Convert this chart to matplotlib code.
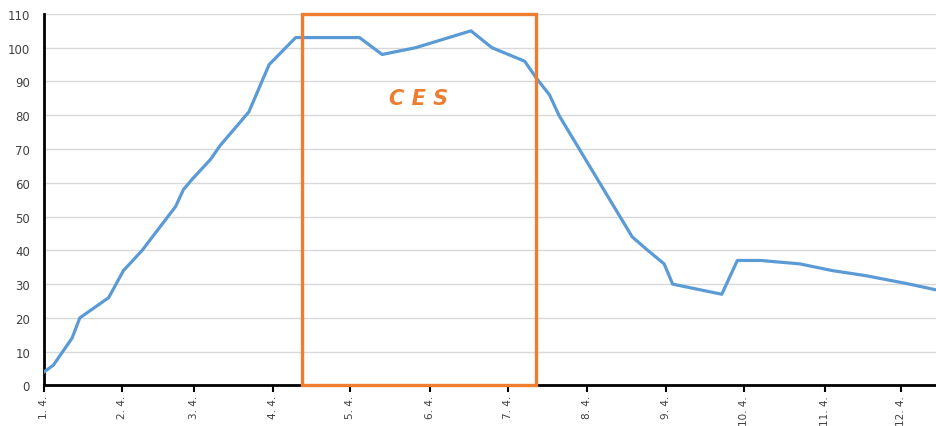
import matplotlib
matplotlib.use("Agg")
import matplotlib.pyplot as plt
from matplotlib.patches import Rectangle

# Data (x in days)
x_vals = [1.0, 1.12, 1.36, 1.46, 1.83, 2.02, 2.26, 2.69, 2.79, 2.90, 3.14, 3.26,
          3.63, 3.89, 4.23, 5.05, 5.34, 5.77, 6.48, 6.75, 7.17, 7.32, 7.49, 7.61,
          8.55, 8.75, 8.96, 9.07, 9.70, 9.90, 10.20, 10.70, 11.12, 11.55, 12.11, 12.45]
y_vals = [4, 6, 14, 20, 26, 34, 40, 53, 58, 61, 67, 71,
          81, 95, 103, 103, 98, 100, 105, 100, 96, 91, 86, 80,
          44, 40, 36, 30, 27, 37, 37, 36, 34, 32.5, 30, 28.3]

tick_pos = [1.0, 2.0, 2.93, 3.94, 4.93, 5.96, 6.95, 7.97, 8.99, 9.99, 11.02, 12.0]
tick_labels = ["1. 4.", "2. 4.", "3. 4.", "4. 4.", "5. 4.", "6. 4.", "7. 4.",
               "8. 4.", "9. 4.", "10. 4.", "11. 4.", "12. 4."]

ces_start = 4.31
ces_end = 7.31
ces_top = 110
ces_label = "C E S"

fig = plt.figure(figsize=(9.36, 4.27), dpi=100)
ax = fig.add_axes([0.047, 0.095, 0.953, 0.87])

ax.plot(x_vals, y_vals, color="#5B9BD5", lw=2.3, solid_joinstyle="round", zorder=3)

ax.add_patch(Rectangle((ces_start, 0), ces_end - ces_start, ces_top,
                       fill=False, edgecolor="#ED7D31", lw=2.4, zorder=4, clip_on=False))
ax.text((ces_start + ces_end) / 2, 85, ces_label, color="#ED7D31", fontsize=15,
        fontweight="bold", style="italic", ha="center", va="center", zorder=5)

ax.set_xlim(1.0, 12.45)
ax.set_ylim(0, 110)
ax.set_yticks(range(0, 111, 10))
ax.set_xticks(tick_pos)
ax.set_xticklabels(tick_labels, rotation=90, fontsize=7.5, color="#404040")
ax.tick_params(axis="y", length=0, pad=10, labelsize=8.5, labelcolor="#404040")
ax.tick_params(axis="x", length=5, width=1.5, direction="out", pad=2)

ax.yaxis.grid(True, color="#D9D9D9", lw=1)
ax.set_axisbelow(True)
for s in ["top", "right"]:
    ax.spines[s].set_visible(False)
for s in ["left", "bottom"]:
    ax.spines[s].set_linewidth(2)
    ax.spines[s].set_color("black")

fig.savefig("out.png", dpi=100)
